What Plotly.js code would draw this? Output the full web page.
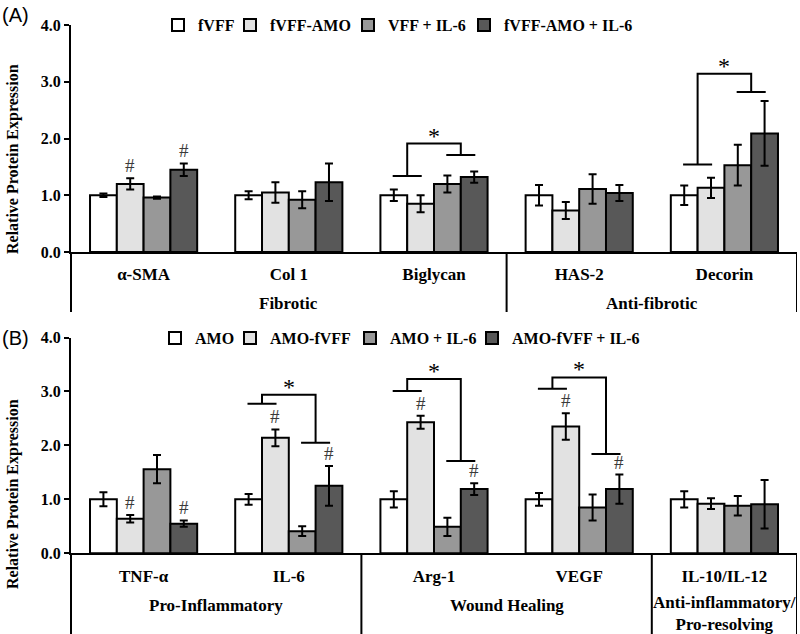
<!DOCTYPE html>
<html><head><meta charset="utf-8">
<script src="https://cdn.plot.ly/plotly-3.0.1.min.js"></script>
<style>html,body{margin:0;padding:0;background:#fff}#chart{width:800px;height:634px}</style>
</head><body><div id="chart"></div>
<script>
// ---------- Panel A data ----------
const catsA = ['α-SMA', 'Col 1', 'Biglycan', 'HAS-2', 'Decorin'];
const namesA = ['fVFF', 'fVFF-AMO', 'VFF + IL-6', 'fVFF-AMO + IL-6'];
const a_fVFF = [1.00, 1.00, 1.00, 1.00, 1.00];
const a_fVFF_err = [0.03, 0.07, 0.10, 0.18, 0.17];
const a_fVFF_AMO = [1.20, 1.05, 0.85, 0.73, 1.13];
const a_fVFF_AMO_err = [0.10, 0.18, 0.15, 0.15, 0.18];
const a_VFF_IL6 = [0.96, 0.92, 1.20, 1.11, 1.53];
const a_VFF_IL6_err = [0.02, 0.15, 0.15, 0.26, 0.36];
const a_fVFF_AMO_IL6 = [1.45, 1.23, 1.32, 1.04, 2.09];
const a_fVFF_AMO_IL6_err = [0.11, 0.33, 0.10, 0.14, 0.57];
const a_hash = [[0,0,0,0,0],[1,0,0,0,0],[0,0,0,0,0],[1,0,0,0,0]];
const groupsA = ['Fibrotic', 'Anti-fibrotic'];
const sigA_cat = [2, 4];
const sigA_left = [1.34, 1.54];
const sigA_top = [1.91, 3.14];
const sigA_right = [1.71, 2.82];

// ---------- Panel B data ----------
const catsB = ['TNF-α', 'IL-6', 'Arg-1', 'VEGF', 'IL-10/IL-12'];
const namesB = ['AMO', 'AMO-fVFF', 'AMO + IL-6', 'AMO-fVFF + IL-6'];
const b_AMO = [1.00, 1.00, 1.00, 1.00, 1.00];
const b_AMO_err = [0.13, 0.10, 0.15, 0.12, 0.15];
const b_AMO_fVFF = [0.64, 2.14, 2.43, 2.35, 0.92];
const b_AMO_fVFF_err = [0.07, 0.155, 0.12, 0.245, 0.10];
const b_AMO_IL6 = [1.56, 0.41, 0.49, 0.85, 0.88];
const b_AMO_IL6_err = [0.26, 0.09, 0.17, 0.24, 0.18];
const b_AMO_fVFF_IL6 = [0.55, 1.25, 1.19, 1.19, 0.91];
const b_AMO_fVFF_IL6_err = [0.06, 0.37, 0.11, 0.27, 0.45];
const b_hash = [[0,0,0,0,0],[1,1,1,1,0],[0,0,0,0,0],[1,1,1,1,0]];
const groupsB = ['Pro-Inflammatory', 'Wound Healing', 'Anti-inflammatory/<br>Pro-resolving'];
const sigB_cat = [1, 2, 3];
const sigB_left = [2.77, 3.01, 3.05];
const sigB_top = [2.94, 3.23, 3.26];
const sigB_right = [2.05, 1.71, 1.84];

const yTicks = [0, 1, 2, 3, 4];
const yTickText = ['0.0', '1.0', '2.0', '3.0', '4.0'];

// ---------- styling ----------
const fills = ['#ffffff', '#e2e2e2', '#989898', '#585858'];
const SERIF = 'Liberation Serif, Times New Roman, serif';
const BARGAP = 0.262;
const W = 800, H = 634;
const px = v => v / W, py = v => 1 - v / H;
const xDom = [px(71), px(797)];
const yDomA = [py(252), py(25)];
const yDomB = [py(553.3), py(337.5)];
const hA = 227, hB = 215.8;

const seriesA = [[a_fVFF, a_fVFF_err], [a_fVFF_AMO, a_fVFF_AMO_err], [a_VFF_IL6, a_VFF_IL6_err], [a_fVFF_AMO_IL6, a_fVFF_AMO_IL6_err]];
const seriesB = [[b_AMO, b_AMO_err], [b_AMO_fVFF, b_AMO_fVFF_err], [b_AMO_IL6, b_AMO_IL6_err], [b_AMO_fVFF_IL6, b_AMO_fVFF_IL6_err]];

const traces = [];
function addTraces(series, names, cats, xa, ya, legBase) {
  series.forEach((s, i) => {
    const n = legBase + i;
    traces.push({
      type: 'bar', x: cats, y: s[0], name: names[i],
      xaxis: xa, yaxis: ya, legend: n === 1 ? 'legend' : 'legend' + n,
      marker: {color: fills[i], line: {color: '#000', width: 2}},
      error_y: {type: 'data', array: s[1], visible: true, color: '#000', thickness: 2, width: 4},
      hoverinfo: 'skip'
    });
  });
}
addTraces(seriesA, namesA, catsA, 'x', 'y', 1);
addTraces(seriesB, namesB, catsB, 'x2', 'y2', 5);

const barW = (1 - BARGAP) / 4;
const offs = [-1.5, -0.5, 0.5, 1.5].map(k => k * barW);

const shapes = [];
const annotations = [];
const line = {color: '#000', width: 2};

function brackets(cat, lo, top, hi, xr, yr) {
  cat.forEach((c, k) => {
    const xl = c + (offs[0] + offs[1]) / 2, xh = c + (offs[2] + offs[3]) / 2, hw = 0.1;
    const p = `M${xl - hw},${lo[k]} L${xl + hw},${lo[k]} M${xl},${lo[k]} L${xl},${top[k]} L${xh},${top[k]} L${xh},${hi[k]} M${xh - hw},${hi[k]} L${xh + hw},${hi[k]}`;
    shapes.push({type: 'path', path: p, xref: xr, yref: yr, line: line});
    annotations.push({x: c, y: top[k], xref: xr, yref: yr, text: '*', showarrow: false,
      xanchor: 'center', yanchor: 'bottom', yshift: -7, font: {family: SERIF, size: 24, color: '#000'}});
  });
}
brackets(sigA_cat, sigA_left, sigA_top, sigA_right, 'x', 'y');
brackets(sigB_cat, sigB_left, sigB_top, sigB_right, 'x2', 'y2');

function hashes(series, flags, xr, yr) {
  flags.forEach((row, i) => row.forEach((f, c) => {
    if (!f) return;
    annotations.push({x: c + offs[i], y: series[i][0][c] + series[i][1][c], xref: xr, yref: yr,
      text: '#', showarrow: false, xanchor: 'center', yanchor: 'bottom', yshift: 0,
      font: {family: SERIF, size: 19, color: '#3a3a3a'}});
  }));
}
hashes(seriesA, a_hash, 'x', 'y');
hashes(seriesB, b_hash, 'x2', 'y2');

// axis extensions and dividers
const extA = -(312 - 252) / hA, extB = -(634 - 553.3) / hB;
shapes.push({type: 'line', xref: 'x domain', yref: 'y domain', x0: 0, x1: 0, y0: 0, y1: extA, line: line});
[2.5, 4.5].forEach(v => shapes.push({type: 'line', xref: 'x', yref: 'y domain', x0: v, x1: v, y0: 0, y1: extA, line: line}));
shapes.push({type: 'line', xref: 'x2 domain', yref: 'y2 domain', x0: 0, x1: 0, y0: 0, y1: extB, line: line});
[1.5, 3.5, 4.5].forEach(v => shapes.push({type: 'line', xref: 'x2', yref: 'y2 domain', x0: v, x1: v, y0: 0, y1: extB, line: line}));

// group labels
const gFont = {family: SERIF, size: 17, color: '#000'};
[[groupsA[0], 1], [groupsA[1], 3.5]].forEach(g => annotations.push({text: '<b>' + g[0] + '</b>', x: g[1], xref: 'x',
  y: -(303 - 252) / hA, yref: 'y domain', xanchor: 'center', yanchor: 'middle', showarrow: false, font: gFont}));
[[groupsB[0], 0.5], [groupsB[1], 2.5]].forEach(g => annotations.push({text: '<b>' + g[0] + '</b>', x: g[1], xref: 'x2',
  y: -(605 - 553.3) / hB, yref: 'y2 domain', xanchor: 'center', yanchor: 'middle', showarrow: false, font: gFont}));
annotations.push({text: '<b>Anti-inflammatory/</b><br><b>Pro-resolving</b>', x: 4, xref: 'x2', y: -(613.3 - 553.3) / hB, yref: 'y2 domain',
  xanchor: 'center', yanchor: 'middle', showarrow: false, font: gFont});

// y titles and panel letters
const ytFont = {family: SERIF, size: 16, color: '#000'};
annotations.push({text: '<b>Relative Protein Expression</b>', textangle: -90, x: px(13), y: py(159), xref: 'paper', yref: 'paper', xanchor: 'center', yanchor: 'middle', showarrow: false, font: ytFont});
annotations.push({text: '<b>Relative Protein Expression</b>', textangle: -90, x: px(13), y: py(494), xref: 'paper', yref: 'paper', xanchor: 'center', yanchor: 'middle', showarrow: false, font: ytFont});
const pFont = {family: 'Liberation Sans, Arial, sans-serif', size: 20, color: '#000'};
annotations.push({text: '(A)', x: 0, y: py(15), xref: 'paper', yref: 'paper', xanchor: 'left', yanchor: 'middle', showarrow: false, font: pFont});
annotations.push({text: '(B)', x: 0, y: py(338), xref: 'paper', yref: 'paper', xanchor: 'left', yanchor: 'middle', showarrow: false, font: pFont});

const tickFont = {family: SERIF, size: 17, color: '#000', weight: 'bold'};
function xAxis(anchor) {
  return {domain: xDom, anchor: anchor, type: 'category', range: [-0.5, 4.5], showline: true, linecolor: '#000', linewidth: 2,
    ticks: 'outside', ticklen: 6, tickcolor: 'rgba(0,0,0,0)', tickfont: tickFont, showgrid: false, zeroline: false, fixedrange: true};
}
function yAxis(dom, anchor) {
  return {domain: dom, anchor: anchor, range: [0, 4], tickvals: yTicks, ticktext: yTickText, showline: true, linecolor: '#000', linewidth: 2,
    ticks: 'outside', ticklen: 5, tickwidth: 2, tickcolor: '#000', tickfont: {family: SERIF, size: 16, color: '#000', weight: 'bold'},
    showgrid: false, zeroline: false, fixedrange: true};
}

const legFont = {family: SERIF, size: 16, color: '#000', weight: 'bold'};
const legXA = [176, 248, 366, 482], legXB = [173, 248, 368, 490];
const layout = {
  width: W, height: H, margin: {l: 0, r: 0, t: 0, b: 0}, paper_bgcolor: '#fff', plot_bgcolor: '#fff',
  barmode: 'group', bargap: BARGAP, bargroupgap: 0,
  xaxis: xAxis('y'), yaxis: yAxis(yDomA, 'x'),
  xaxis2: xAxis('y2'), yaxis2: yAxis(yDomB, 'x2'),
  shapes: shapes, annotations: annotations, showlegend: true
};
const legShift = 18;
legXA.forEach((v, i) => { layout[i === 0 ? 'legend' : 'legend' + (i + 1)] = {x: px(v - legShift), xanchor: 'left', y: py(25), yanchor: 'middle', orientation: 'h', font: legFont, bgcolor: 'rgba(0,0,0,0)', itemwidth: 30}; });
legXB.forEach((v, i) => { layout['legend' + (i + 5)] = {x: px(v - legShift), xanchor: 'left', y: py(338), yanchor: 'middle', orientation: 'h', font: legFont, bgcolor: 'rgba(0,0,0,0)', itemwidth: 30}; });

Plotly.newPlot('chart', traces, layout, {staticPlot: true});
</script></body></html>
